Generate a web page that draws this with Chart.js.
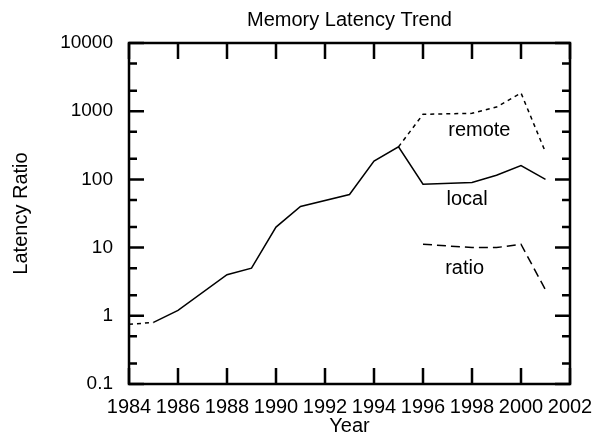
<!DOCTYPE html>
<html>
<head>
<meta charset="utf-8">
<script src="https://cdn.jsdelivr.net/npm/chart.js@4/dist/chart.umd.min.js"></script>
<style>
  html, body { margin: 0; padding: 0; background: #fff; }
</style>
</head>
<body>
<canvas id="latency" width="595" height="436"></canvas>
<script>
// values
const localYears = [1985, 1986, 1988, 1989, 1990, 1991, 1993, 1994, 1995, 1996, 1998, 1999, 2000, 2001];
const localValues = [0.8, 1.2, 4, 5, 20, 40, 60, 185, 300, 85, 90, 115, 160, 100];
const remoteYears = [1984, 1985, 1990, 1995, 1996, 1998, 1999, 2000, 2001];
const remoteValues = [0.75, 0.8, null, 300, 900, 930, 1150, 1850, 250];
const ratioYears = [1996, 1998, 1999, 2000, 2001];
const ratioValues = [11.2, 10, 10, 11.2, 2.4];

const yTicks = [0.1, 1, 10, 100, 1000, 10000];
const yTickLabels = ['0.1', '1', '10', '100', '1000', '10000'];

// in-plot series names and where they sit (year, value)
const seriesNames = ['remote', 'local', 'ratio'];
const nameYears = [1998.3, 1997.8, 1997.7];
const nameValues = [520, 51, 4.9];

const chartTitle = 'Memory Latency Trend';

Chart.defaults.font.family = '"Liberation Sans", Arial, sans-serif';
Chart.defaults.color = '#000';

function points(xs, ys) {
    return xs.map((x, i) => ({ x: x, y: ys[i] }));
}

// frame with inward ticks on all four sides, plus title and series names
const frameTicks = {
    id: 'frameTicks',
    afterDatasetsDraw(chart) {
        const { ctx, chartArea: a, scales: { x, y } } = chart;
        ctx.save();
        ctx.strokeStyle = '#000';
        ctx.lineWidth = 2.5;
        ctx.beginPath();
        x.ticks.forEach(t => {
            const px = x.getPixelForValue(t.value);
            ctx.moveTo(px, a.bottom); ctx.lineTo(px, a.bottom - 16);
            ctx.moveTo(px, a.top); ctx.lineTo(px, a.top + 16);
        });
        yTicks.forEach(v => {
            const py = y.getPixelForValue(v);
            ctx.moveTo(a.left, py); ctx.lineTo(a.left + 15, py);
            ctx.moveTo(a.right, py); ctx.lineTo(a.right - 15, py);
            if (v < 10000) {
                [2, 5].forEach(m => {
                    const pm = y.getPixelForValue(v * m);
                    ctx.moveTo(a.left, pm); ctx.lineTo(a.left + 8, pm);
                    ctx.moveTo(a.right, pm); ctx.lineTo(a.right - 8, pm);
                });
            }
        });
        ctx.stroke();
        ctx.strokeRect(a.left, a.top, a.width, a.height);

        ctx.fillStyle = '#000';
        ctx.font = '20px "Liberation Sans", Arial, sans-serif';
        ctx.textAlign = 'center';
        ctx.textBaseline = 'middle';
        ctx.fillText(chartTitle, (a.left + a.right) / 2, 20);
        seriesNames.forEach((n, i) => {
            ctx.fillText(n, x.getPixelForValue(nameYears[i]), y.getPixelForValue(nameValues[i]));
        });
        ctx.restore();
    }
};

const lineStyle = {
    borderColor: '#000',
    borderWidth: 1.5,
    pointRadius: 0,
    tension: 0,
    fill: false,
    spanGaps: false
};

const config = {
    type: 'line',
    data: {
        datasets: [
            Object.assign({ label: 'local', data: points(localYears, localValues) }, lineStyle),
            Object.assign({ label: 'remote', data: points(remoteYears, remoteValues), borderDash: [4, 4] }, lineStyle),
            Object.assign({ label: 'ratio', data: points(ratioYears, ratioValues), borderDash: [9, 5] }, lineStyle)
        ]
    },
    options: {
        responsive: false,
        animation: false,
        layout: { padding: { left: 0, right: 25, top: 43, bottom: 0 } },
        plugins: {
            legend: { display: false },
            tooltip: { enabled: false },
            title: { display: false }
        },
        scales: {
            x: {
                type: 'linear',
                min: 1984,
                max: 2002,
                grid: { display: false, drawTicks: false },
                border: { display: false },
                ticks: {
                    stepSize: 2,
                    autoSkip: false,
                    maxRotation: 0,
                    padding: 11,
                    font: { size: 20 },
                    callback: v => String(v)
                },
                title: {
                    display: true,
                    text: 'Year',
                    font: { size: 20, lineHeight: 1 },
                    padding: 0
                },
                afterFit: s => { s.height = 52; s.paddingLeft = 0; s.paddingRight = 0; }
            },
            y: {
                type: 'logarithmic',
                min: 0.1,
                max: 10000,
                grid: { display: false, drawTicks: false },
                border: { display: false },
                afterBuildTicks: s => { s.ticks = yTicks.map(v => ({ value: v })); },
                ticks: {
                    padding: 16,
                    font: { size: 19 },
                    callback: (v, i) => yTickLabels[i]
                },
                title: {
                    display: true,
                    text: 'Latency Ratio',
                    font: { size: 20, lineHeight: 1.2 },
                    padding: { top: 9, bottom: 0 }
                },
                afterFit: s => { s.width = 129; s.paddingTop = 0; s.paddingBottom = 0; }
            }
        }
    },
    plugins: [frameTicks]
};

const latencyCtx = document.getElementById('latency');
window.latencyChart = new Chart(latencyCtx, config);
</script>
</body>
</html>
